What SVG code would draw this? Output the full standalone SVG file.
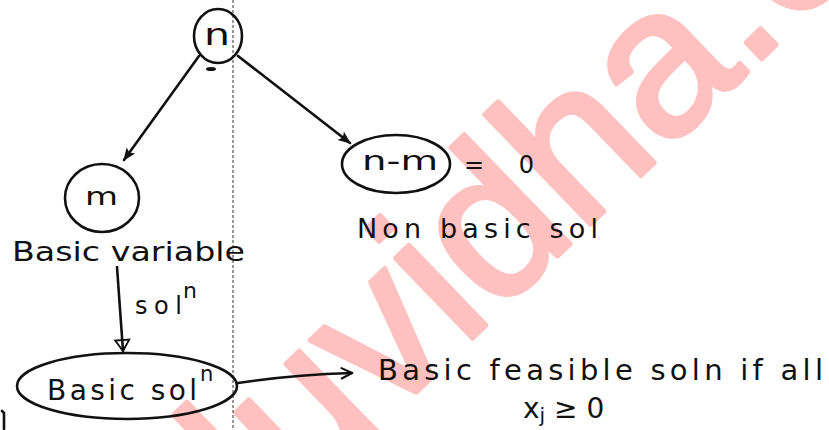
<svg xmlns="http://www.w3.org/2000/svg" width="829" height="430" viewBox="0 0 829 430">
<style>
.ink{fill:none;stroke:#111;stroke-width:2.6;stroke-linecap:round;stroke-linejoin:round}
.t{font-family:"DejaVu Sans","Liberation Sans",sans-serif;fill:#111}
.wm{font-family:"Liberation Sans",Arial,sans-serif;fill:#ffc0c0;stroke:#ffc0c0;stroke-width:5;stroke-linejoin:round;font-size:210px}
.fold{stroke:#333;stroke-width:1;stroke-dasharray:3 2}
</style>
<defs>
<marker id="af" viewBox="0 0 10 10" refX="9" refY="5" markerWidth="5" markerHeight="5" orient="auto" markerUnits="strokeWidth">
<path d="M0,1 L10,5 L0,9 L2,5 Z" fill="#111"/>
</marker>
<marker id="at" viewBox="0 0 10 10" refX="9" refY="5" markerWidth="6" markerHeight="8" orient="auto" markerUnits="strokeWidth">
<path d="M2,0.5 L9,5 L2,9.5 Z" fill="none" stroke="#111" stroke-width="1.2"/>
</marker>
<marker id="ao" viewBox="0 0 10 10" refX="9" refY="5" markerWidth="5" markerHeight="5" orient="auto" markerUnits="strokeWidth">
<path d="M1,1 L9,5 L1,9" fill="none" stroke="#111" stroke-width="1.6" stroke-linecap="round"/>
</marker>
</defs>
<rect width="829" height="430" fill="#fff"/>
<g id="watermark">
<text class="wm" transform="translate(748,72) rotate(-44)" text-anchor="end">eduvidha</text>
<text class="wm" transform="translate(748,72) rotate(-44)">.com</text>
</g>
<line class="fold" x1="233" y1="0" x2="233" y2="430"/>
<g id="connectors">
<path class="ink" d="M199,56 L124,160" marker-end="url(#af)"/>
<path class="ink" d="M238,56 L350,143" marker-end="url(#af)"/>
<path class="ink" d="M117,267 L123,351" marker-end="url(#at)"/>
<path class="ink" d="M238,383 Q290,375 352,373" marker-end="url(#ao)"/>
</g>
<g id="node-n">
<ellipse class="ink" cx="218" cy="36" rx="24" ry="27"/>
<text class="t" x="204" y="45" font-size="30" textLength="26" lengthAdjust="spacingAndGlyphs">n</text>
<ellipse cx="211" cy="69" rx="5" ry="2" fill="#111"/>
</g>
<g id="node-m">
<ellipse class="ink" cx="102" cy="198" rx="37" ry="34"/>
<text class="t" x="85" y="205" font-size="24" textLength="33" lengthAdjust="spacingAndGlyphs">m</text>
<text class="t" x="12" y="261" font-size="27" textLength="233" lengthAdjust="spacingAndGlyphs">Basic variable</text>
</g>
<g id="node-nm">
<ellipse class="ink" cx="396" cy="164" rx="54" ry="29"/>
<text class="t" x="362" y="170" font-size="27" textLength="76" lengthAdjust="spacingAndGlyphs">n-m</text>
<text class="t" x="464" y="173" font-size="24" textLength="70" lengthAdjust="spacing">= 0</text>
<text class="t" x="357" y="238" font-size="27" textLength="241" lengthAdjust="spacing">Non basic sol</text>
</g>
<text class="t" x="135" y="314" font-size="24" textLength="47" lengthAdjust="spacing">sol</text>
<text class="t" x="183" y="298" font-size="22">n</text>
<g id="node-basic-soln">
<ellipse class="ink" cx="127" cy="386" rx="110" ry="33"/>
<text class="t" x="47" y="400" font-size="28" textLength="150" lengthAdjust="spacing">Basic sol</text>
<text class="t" x="200" y="381" font-size="21">n</text>
</g>
<g id="node-bfs">
<text class="t" x="378" y="380" font-size="29" textLength="445" lengthAdjust="spacing">Basic feasible soln if all</text>
<text class="t" x="523" y="418" font-size="28">x<tspan font-size="20" dy="4">j</tspan><tspan dy="-4"> ≥ 0</tspan></text>
</g>
<path class="ink" d="M2,411 L4,413 L4,429" stroke-width="2"/>
</svg>
